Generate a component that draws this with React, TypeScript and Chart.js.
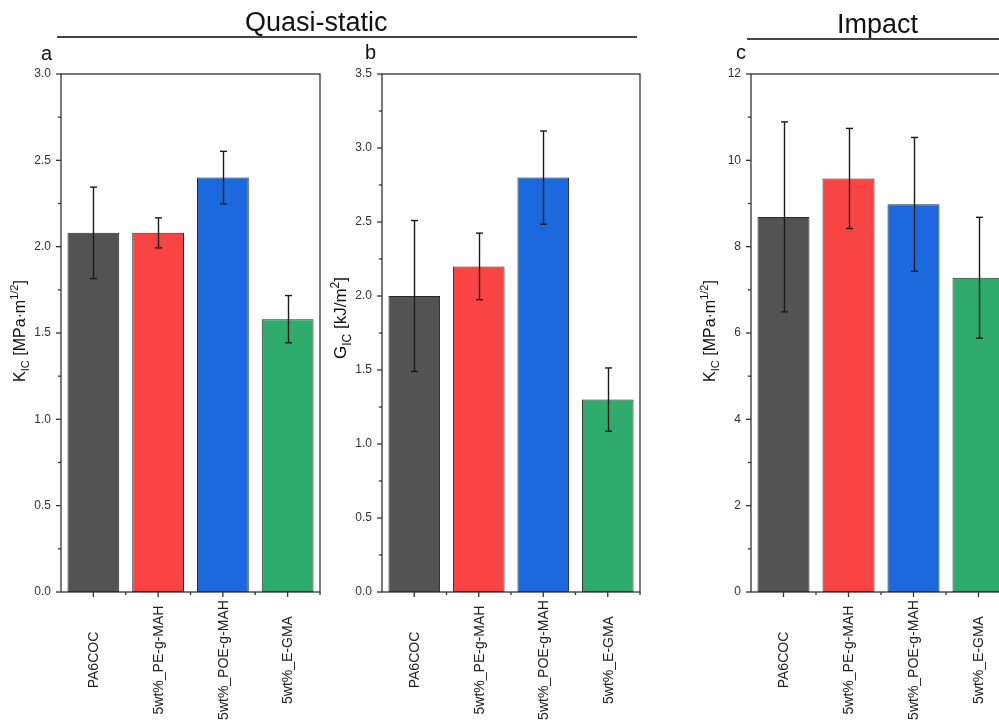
import React, { useEffect, useRef } from "react";
import { Chart, registerables } from "chart.js";

Chart.register(...registerables);

// ---------------- data ----------------
const categories = ["PA6COC", "5wt%_PE-g-MAH", "5wt%_POE-g-MAH", "5wt%_E-GMA"];
const barColors = ["#535353", "#F94444", "#1B69DC", "#2FAB6B"];

const quasiKValues = [2.08, 2.08, 2.4, 1.58];
const quasiKErrors = [0.265, 0.087, 0.152, 0.137];

const quasiGValues = [2.0, 2.2, 2.8, 1.3];
const quasiGErrors = [0.51, 0.225, 0.315, 0.214];

const impactKValues = [8.69, 9.58, 8.98, 7.28];
const impactKErrors = [2.2, 1.16, 1.55, 1.4];

const groupTitles = ["Quasi-static", "Impact"];
const panelLetters = ["a", "b", "c"];

type Part = [string, "n" | "sub" | "sup"];
const titleK: Part[] = [["K", "n"], ["IC", "sub"], [" [MPa\u00B7m", "n"], ["1/2", "sup"], ["]", "n"]];
const titleG: Part[] = [["G", "n"], ["IC", "sub"], [" [kJ/m", "n"], ["2", "sup"], ["]", "n"]];

const FONT = '"Liberation Sans", Arial, Helvetica, sans-serif';

type PanelProps = {
  left: number;
  width: number;
  yWidth: number;
  rightPad: number;
  values: number[];
  errors: number[];
  yMax: number;
  yStep: number;
  majorStep: number;
  decimals: number;
  title: Part[];
  titleFont: number;
  titleShift: number;
};

function line(ctx: CanvasRenderingContext2D, x1: number, y1: number, x2: number, y2: number) {
  ctx.beginPath();
  ctx.moveTo(x1, y1);
  ctx.lineTo(x2, y2);
  ctx.stroke();
}

function Panel(p: PanelProps) {
  const ref = useRef<HTMLCanvasElement>(null);
  useEffect(() => {
    const canvas = ref.current!;
    const plugin = {
      id: "panelDecor",
      afterDatasetsDraw(chart: any) {
        const ctx: CanvasRenderingContext2D = chart.ctx;
        const { left, right, top, bottom } = chart.chartArea;
        const xs = chart.scales.x;
        const ys = chart.scales.y;
        ctx.save();
        // error bars
        ctx.strokeStyle = "#1a1a1a";
        ctx.lineWidth = 1.4;
        p.values.forEach((v, i) => {
          const px = Math.round(xs.getPixelForValue(i)) + 0.5;
          const yt = ys.getPixelForValue(v + p.errors[i]);
          const yb = ys.getPixelForValue(v - p.errors[i]);
          line(ctx, px, yt, px, yb);
          line(ctx, px - 3.5, yt, px + 3.5, yt);
          line(ctx, px - 3.5, yb, px + 3.5, yb);
        });
        // frame
        ctx.strokeStyle = "#333";
        ctx.lineWidth = 1.3;
        ctx.strokeRect(left, top, right - left, bottom - top);
        // y ticks
        ys.ticks.forEach((t: any) => {
          const py = ys.getPixelForValue(t.value);
          const r = t.value / p.majorStep;
          const major = Math.abs(r - Math.round(r)) < 1e-6;
          line(ctx, left - (major ? 5 : 3), py, left, py);
        });
        // x ticks
        const n = p.values.length;
        const half = (xs.getPixelForValue(1) - xs.getPixelForValue(0)) / 2;
        for (let i = 0; i < n; i++) {
          const c = xs.getPixelForValue(i);
          line(ctx, c, bottom, c, bottom + 5);
          line(ctx, c + half, bottom, c + half, bottom + 3);
        }
        // x labels
        ctx.fillStyle = "#222";
        ctx.font = `14px ${FONT}`;
        ctx.textAlign = "center";
        ctx.textBaseline = "middle";
        categories.forEach((lab, i) => {
          const c = xs.getPixelForValue(i);
          ctx.save();
          ctx.translate(c + 1, 660);
          ctx.rotate(-Math.PI / 2);
          ctx.fillText(lab, 0, 0);
          ctx.restore();
        });
        // y title (rich text)
        const fs = p.titleFont;
        const pieces = p.title.map(([txt, mode]) => {
          const size = mode === "n" ? fs : Math.round(fs * 0.7);
          ctx.font = `${size}px ${FONT}`;
          return { txt, mode, size, w: ctx.measureText(txt).width };
        });
        const total = pieces.reduce((s, q) => s + q.w, 0);
        ctx.save();
        ctx.translate(left - 36, (top + bottom) / 2 + p.titleShift);
        ctx.rotate(-Math.PI / 2);
        ctx.textAlign = "left";
        ctx.textBaseline = "alphabetic";
        ctx.fillStyle = "#111";
        let x = -total / 2;
        pieces.forEach((q) => {
          ctx.font = `${q.size}px ${FONT}`;
          const dy = q.mode === "sub" ? fs * 0.28 : q.mode === "sup" ? -fs * 0.42 : 0;
          ctx.fillText(q.txt, x, dy);
          x += q.w;
        });
        ctx.restore();
        ctx.restore();
      },
    };
    const chart = new Chart(canvas, {
      type: "bar",
      data: {
        labels: categories,
        datasets: [
          {
            data: p.values,
            backgroundColor: barColors,
            borderColor: "#2a2a2a",
            borderWidth: 1,
            borderSkipped: false,
            barPercentage: 0.8,
            categoryPercentage: 1,
          },
        ],
      },
      options: {
        responsive: false,
        animation: false,
        devicePixelRatio: 1,
        layout: { padding: { left: 0, right: p.rightPad, top: 74, bottom: 0 } },
        plugins: { legend: { display: false }, tooltip: { enabled: false }, title: { display: false } },
        scales: {
          x: {
            type: "category",
            grid: { display: false },
            border: { display: false },
            ticks: { display: false },
            afterFit: (s: any) => {
              s.height = 132;
            },
          },
          y: {
            min: 0,
            max: p.yMax,
            grid: { display: false, drawTicks: false },
            border: { display: false },
            ticks: {
              stepSize: p.yStep,
              autoSkip: false,
              padding: 10,
              color: "#333",
              font: { family: FONT, size: 12 },
              callback: (v: any) => {
                const r = Number(v) / p.majorStep;
                return Math.abs(r - Math.round(r)) < 1e-6 ? Number(v).toFixed(p.decimals) : "";
              },
            },
            afterFit: (s: any) => {
              s.width = p.yWidth;
            },
          },
        },
      },
      plugins: [plugin],
    } as any);
    return () => chart.destroy();
  }, []);
  return (
    <canvas
      ref={ref}
      width={p.width}
      height={724}
      style={{ position: "absolute", left: p.left, top: 0, width: p.width, height: 724, display: "block" }}
    />
  );
}

export default function App() {
  const text = (s: string, left: number, top: number, size: number) => (
    <div
      style={{
        position: "absolute",
        left,
        top,
        fontFamily: FONT,
        fontSize: size,
        lineHeight: `${size}px`,
        color: "#111",
        whiteSpace: "nowrap",
      }}
    >
      {s}
    </div>
  );
  return (
    <div
      style={{
        position: "absolute",
        left: 0,
        top: 0,
        width: 999,
        height: 724,
        overflow: "hidden",
        background: "#fff",
      }}
    >
      <Panel left={0} width={330} yWidth={61} rightPad={10} values={quasiKValues} errors={quasiKErrors}
        yMax={3} yStep={0.25} majorStep={0.5} decimals={1} title={titleK} titleFont={16} titleShift={-2} />
      <Panel left={330} width={330} yWidth={52} rightPad={20} values={quasiGValues} errors={quasiGErrors}
        yMax={3.5} yStep={0.25} majorStep={0.5} decimals={1} title={titleG} titleFont={17} titleShift={-15} />
      <Panel left={690} width={340} yWidth={61} rightPad={19} values={impactKValues} errors={impactKErrors}
        yMax={12} yStep={1} majorStep={2} decimals={0} title={titleK} titleFont={16} titleShift={-2} />
      {text(groupTitles[0], 245, 9, 27)}
      {text(groupTitles[1], 837, 11, 27)}
      <div style={{ position: "absolute", left: 57, top: 36, width: 580, height: 1.5, background: "#444" }} />
      <div style={{ position: "absolute", left: 747, top: 38, width: 260, height: 1.5, background: "#444" }} />
      {text(panelLetters[0], 41, 43, 20)}
      {text(panelLetters[1], 365, 42, 20)}
      {text(panelLetters[2], 736, 42, 20)}
    </div>
  );
}
